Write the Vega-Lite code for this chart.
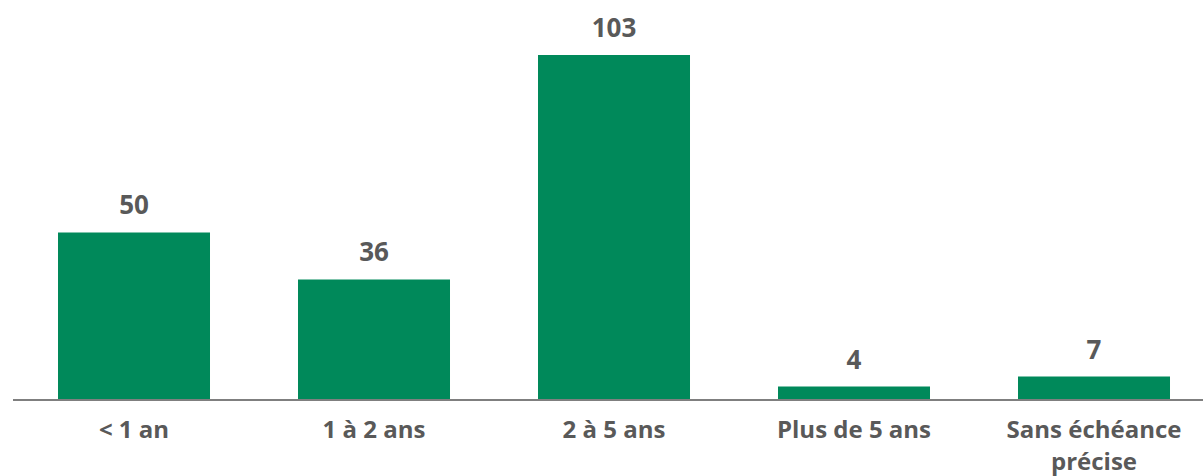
{
  "$schema": "https://vega.github.io/schema/vega-lite/v6.json",
  "width": 1190,
  "height": 400,
  "autosize": {"type": "none"},
  "padding": {"left": 13, "top": 0, "right": 0, "bottom": 76},
  "background": "white",
  "config": {"view": {"stroke": null}, "font": "Open Sans"},
  "data": {
    "values": [
      {"cat": "< 1 an", "val": 50},
      {"cat": "1 à 2 ans", "val": 36},
      {"cat": "2 à 5 ans", "val": 103},
      {"cat": "Plus de 5 ans", "val": 4},
      {"cat": "Sans échéance précise", "val": 7}
    ]
  },
  "encoding": {
    "x": {
      "field": "cat",
      "type": "nominal",
      "sort": null,
      "scale": {"paddingInner": 0.36667, "paddingOuter": 0.1625, "align": 0.577},
      "axis": {
        "title": null,
        "domain": false,
        "ticks": false,
        "labelAngle": 0,
        "labelFont": "Open Sans",
        "labelFontSize": 24,
        "labelFontWeight": "bold",
        "labelColor": "#595959",
        "labelBaseline": "alphabetic",
        "labelPadding": 37,
        "labelLineHeight": 32,
        "labelExpr": "datum.label == 'Sans échéance précise' ? ['Sans échéance', 'précise'] : datum.label"
      }
    }
  },
  "layer": [
    {
      "mark": {"type": "bar", "color": "#00895A"},
      "encoding": {
        "y": {"field": "val", "type": "quantitative", "scale": {"domain": [0, 119.4], "nice": false}, "axis": null}
      }
    },
    {
      "mark": {"type": "text", "dy": -18, "baseline": "alphabetic", "font": "Open Sans", "fontSize": 26, "fontWeight": "bold", "color": "#595959"},
      "encoding": {
        "y": {"field": "val", "type": "quantitative"},
        "text": {"field": "val", "type": "quantitative"}
      }
    },
    {
      "data": {"values": [{"base": 0}]},
      "mark": {"type": "rule", "color": "#7F7F7F", "strokeWidth": 2},
      "encoding": {
        "x": null,
        "y": {"field": "base", "type": "quantitative"}
      }
    }
  ]
}
